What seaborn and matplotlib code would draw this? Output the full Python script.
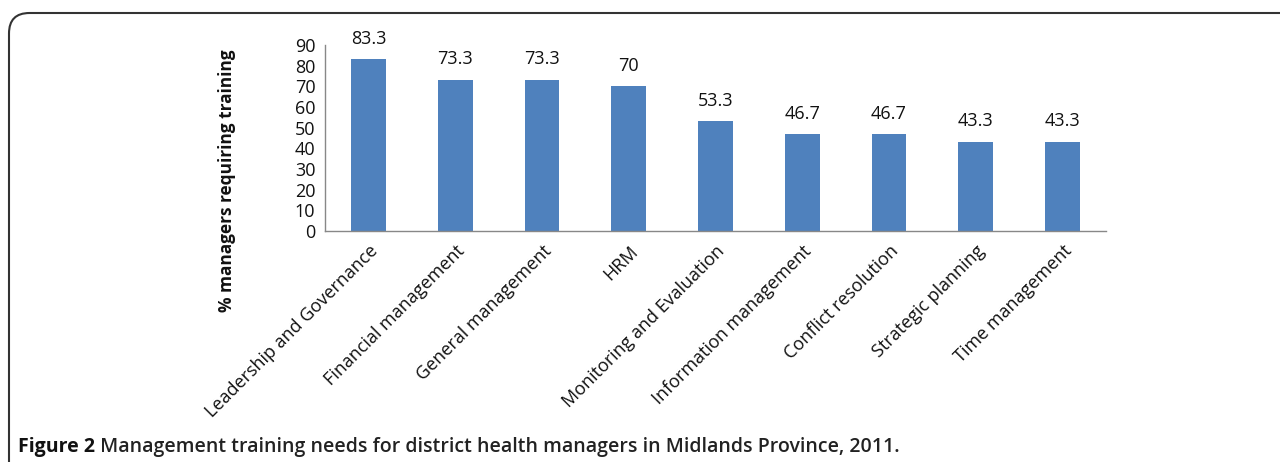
import matplotlib
matplotlib.use("Agg")
import matplotlib.pyplot as plt
from matplotlib.patches import FancyBboxPatch
from matplotlib.ticker import FixedLocator
import seaborn as sns
import pandas as pd

categories = ["Leadership and Governance", "Financial management", "General management",
              "HRM", "Monitoring and Evaluation", "Information management",
              "Conflict resolution", "Strategic planning", "Time management"]
values = [83.3, 73.3, 73.3, 70, 53.3, 46.7, 46.7, 43.3, 43.3]
value_labels = ["83.3", "73.3", "73.3", "70", "53.3", "46.7", "46.7", "43.3", "43.3"]
y_ticks = [0, 10, 20, 30, 40, 50, 60, 70, 80, 90]
y_label = "% managers requiring training"
caption_bold = "Figure 2"
caption_rest = " Management training needs for district health managers in Midlands Province, 2011."

sns.set_theme(style="white")
plt.rcParams['font.family'] = ['Open Sans', 'DejaVu Sans']

df = pd.DataFrame({"cat": categories, "val": values})

fig = plt.figure(figsize=(12.8, 4.62), dpi=100)
ax = fig.add_axes([0.254, 0.5, 0.61, 0.4026])
sns.barplot(data=df, x="cat", y="val", color="#4F81BD", width=0.4, saturation=1,
            ax=ax, edgecolor="none")

ax.set_ylim(0, 90)
ax.set_xlim(-0.5, len(categories) - 0.5)
ax.set_yticks(y_ticks)
ax.set_yticklabels([str(t) for t in y_ticks], fontsize=13, color="#111111")
ax.set_ylabel(y_label, fontsize=12.4, fontweight="bold", color="#111111")
ax.yaxis.set_label_coords(-0.114, 0.27)
ax.set_xlabel("")

ax.set_xticks(range(len(categories)))
ax.set_xticklabels(categories, rotation=45, ha="right", rotation_mode="anchor",
                   fontsize=13, color="#111111")
ax.tick_params(axis="x", length=0, pad=8)
ax.xaxis.set_minor_locator(FixedLocator([i - 0.5 for i in range(len(categories) + 1)]))
ax.tick_params(axis="x", which="minor", length=5, color="#888888", width=1, direction="out")
ax.tick_params(axis="y", length=4, color="#888888", width=1, direction="out", pad=3)

for s in ["top", "right"]:
    ax.spines[s].set_visible(False)
for s in ["left", "bottom"]:
    ax.spines[s].set_color("#888888")
    ax.spines[s].set_linewidth(1)

for container in ax.containers:
    ax.bar_label(container, labels=value_labels, padding=8, fontsize=13, color="#111111")

# frame around figure (open at right/bottom)
frame = FancyBboxPatch((9 / 1280, -0.2), 1.2, 1.2 - 13 / 462,
                       boxstyle="round,pad=0,rounding_size=0.016",
                       transform=fig.transFigure, fill=False, edgecolor="#333333",
                       linewidth=1.5, mutation_aspect=1280 / 462)
fig.patches.append(frame)

t1 = fig.text(18 / 1280, 1 - 447 / 462, caption_bold, fontsize=14, fontweight="bold",
              ha="left", va="center", color="#111111")
fig.canvas.draw()
bb = t1.get_window_extent()
fig.text(bb.x1 / 1280, 1 - 447 / 462, caption_rest, fontsize=14, fontweight="semibold",
         ha="left", va="center", color="#222222")

fig.savefig("out.png", dpi=100)
